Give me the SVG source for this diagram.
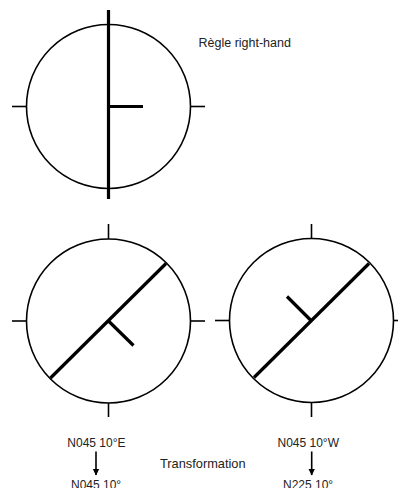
<svg xmlns="http://www.w3.org/2000/svg" width="398" height="488" viewBox="0 0 398 488">
<defs>
<style>
.circ{fill:none;stroke:#000;stroke-width:1.6}
.tick{stroke:#000;stroke-width:1.6}
.thick{stroke:#000;stroke-width:3.2;stroke-linecap:butt}
.lbl{font-family:"Liberation Sans",Arial,sans-serif;font-size:12px;fill:#222}
.arr{stroke:#000;stroke-width:1.6}
</style>
<marker id="ah" markerWidth="8" markerHeight="8" refX="6" refY="4" orient="auto" markerUnits="userSpaceOnUse">
<path d="M0,0.8 L6.5,4 L0,7.2 Z" fill="#000"/>
</marker>
</defs>
<rect width="398" height="488" fill="#fff"/>
<g id="top-circle">
<circle class="circ" cx="108.5" cy="106.5" r="82"/>
<line class="tick" x1="12" y1="106.5" x2="26.5" y2="106.5"/>
<line class="tick" x1="190.5" y1="106.5" x2="205" y2="106.5"/>
<line class="thick" x1="108.5" y1="10" x2="108.5" y2="199"/>
<line class="thick" x1="108.5" y1="106.5" x2="143" y2="106.5"/>
</g>
<g id="title">
<text class="lbl" x="198.5" y="46.5" style="font-size:12.5px">Règle right-hand</text>
</g>
<g id="left-circle">
<circle class="circ" cx="108.5" cy="321" r="82"/>
<line class="tick" x1="108.5" y1="224" x2="108.5" y2="239"/>
<line class="tick" x1="108.5" y1="403" x2="108.5" y2="417"/>
<line class="tick" x1="12" y1="321" x2="26.5" y2="321"/>
<line class="tick" x1="190.5" y1="321" x2="205" y2="321"/>
<line class="thick" x1="50.5" y1="378" x2="166" y2="263.5"/>
<line class="thick" x1="108" y1="320.5" x2="133.5" y2="345.5"/>
</g>
<g id="right-circle">
<circle class="circ" cx="311.5" cy="320.5" r="82"/>
<line class="tick" x1="311.5" y1="224" x2="311.5" y2="238.5"/>
<line class="tick" x1="311.5" y1="402.5" x2="311.5" y2="417"/>
<line class="tick" x1="215" y1="320.5" x2="229.5" y2="320.5"/>
<line class="tick" x1="393.5" y1="320.5" x2="398" y2="320.5"/>
<line class="thick" x1="254" y1="377.5" x2="369" y2="263.5"/>
<line class="thick" x1="311" y1="320.5" x2="287" y2="296.5"/>
</g>
<g id="labels">
<text class="lbl" x="67.3" y="446.7">N045 10°E</text>
<text class="lbl" x="71" y="488.5">N045 10°</text>
<text class="lbl" x="277.5" y="446.7">N045 10°W</text>
<text class="lbl" x="283" y="488.5">N225 10°</text>
<text class="lbl" x="160" y="468.3" style="font-size:12.8px">Transformation</text>
</g>
<g id="connectors">
<line class="arr" x1="96" y1="451.5" x2="96" y2="475" marker-end="url(#ah)"/>
<line class="arr" x1="311.7" y1="451.5" x2="311.7" y2="475" marker-end="url(#ah)"/>
</g>
</svg>
